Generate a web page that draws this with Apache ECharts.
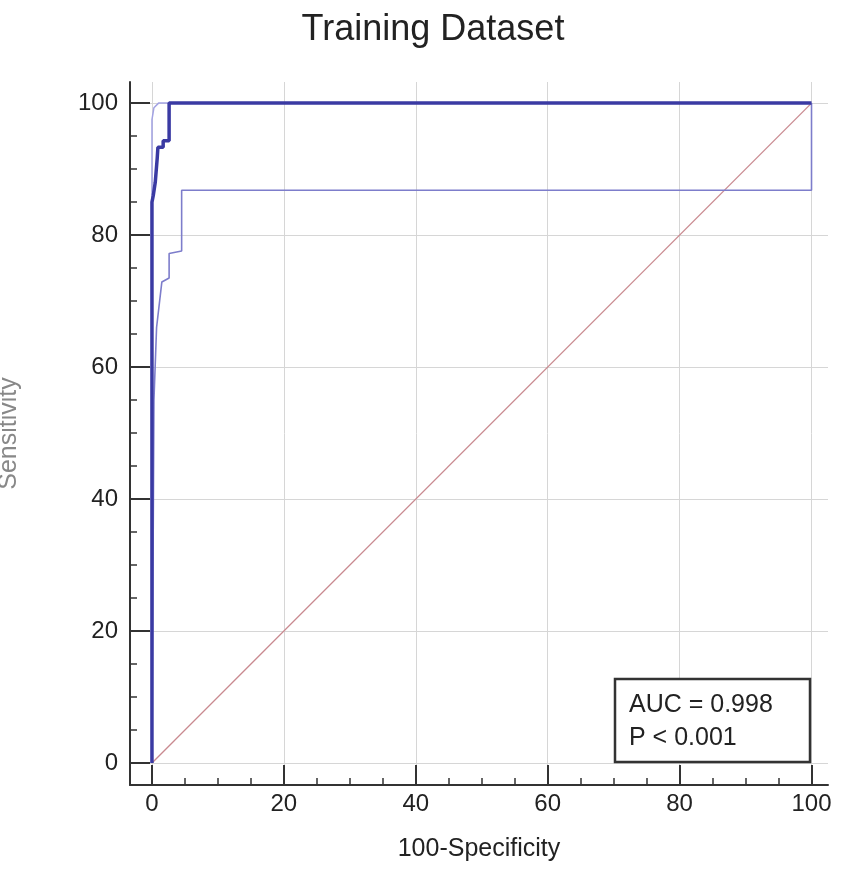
<!DOCTYPE html>
<html>
<head>
<meta charset="utf-8">
<script src="https://cdn.jsdelivr.net/npm/echarts@6/dist/echarts.min.js"></script>
<style>
  html, body { margin: 0; padding: 0; background: #fff; }
  #main { width: 845px; height: 873px; }
</style>
</head>
<body>
<div id="main"></div>
<script>
// tick values
var majorTicks = [0, 20, 40, 60, 80, 100];
var minorTicks = [5, 10, 15, 25, 30, 35, 45, 50, 55, 65, 70, 75, 85, 90, 95];

// ROC curve (100-Specificity, Sensitivity)
var rocCurve = [[0, 0], [0, 85], [0.2, 86], [0.5, 88], [0.8, 91.7], [0.9, 93.3], [1.7, 93.3],
  [1.7, 94.3], [2.6, 94.3], [2.6, 100], [100, 100]];
// confidence bounds
var upperBound = [[0, 0], [0, 97.5], [0.3, 99.3], [1, 100], [100, 100]];
var lowerBound = [[0, 0], [0.3, 55], [0.7, 66], [1.0, 66.1], [1.5, 72.9], [2.6, 73.5], [2.6, 77.2],
  [4.5, 77.6], [4.5, 86.8], [100, 86.8], [100, 100]];
var diagonal = [[0, 0], [100, 100]];

var aucText = 'AUC = 0.998';
var pText = 'P < 0.001';

var font = 'Liberation Sans, Arial, Helvetica, sans-serif';

var myChart = echarts.init(document.getElementById('main'));

function majorAxis(isX) {
  return {
    type: 'value',
    position: isX ? 'bottom' : 'left',
    min: -3.33,
    max: isX ? 102.5 : 103.2,
    name: isX ? '100-Specificity' : 'Sensitivity',
    nameLocation: 'middle',
    nameGap: isX ? 52 : 108,
    nameTextStyle: { fontFamily: font, fontSize: 25, color: isX ? '#222' : '#888' },
    axisLine: { show: true, onZero: false, lineStyle: { color: '#333', width: 2 } },
    axisTick: { show: true, inside: true, length: 20, customValues: majorTicks,
      lineStyle: { color: '#333', width: 2 } },
    axisLabel: { customValues: majorTicks, fontFamily: font, fontSize: 24, color: '#222',
      margin: isX ? 7 : 12 },
    splitLine: { show: true, lineStyle: { color: '#d6d6d6', width: 1 } }
  };
}

function minorAxis(isX) {
  return {
    type: 'value',
    position: isX ? 'bottom' : 'left',
    min: -3.33,
    max: isX ? 102.5 : 103.2,
    axisLine: { show: false, onZero: false },
    axisTick: { show: true, inside: true, length: 7, customValues: minorTicks,
      lineStyle: { color: '#333', width: 1.5 } },
    axisLabel: { show: false },
    splitLine: { show: false }
  };
}

var option = {
  animation: false,
  grid: { left: 130, right: 17, top: 82, bottom: 88, outerBoundsMode: 'none', containLabel: false },
  xAxis: [majorAxis(true), minorAxis(true)],
  yAxis: [majorAxis(false), minorAxis(false)],
  series: [
    {
      type: 'line', data: diagonal, symbol: 'none', z: 2,
      lineStyle: { color: '#c98a90', width: 1.3 }
    },
    {
      type: 'line', data: upperBound, symbol: 'none', z: 3,
      lineStyle: { color: '#a3a3e3', width: 1.5 }
    },
    {
      type: 'line', data: lowerBound, symbol: 'none', z: 3,
      lineStyle: { color: '#7d7dcb', width: 1.6 }
    },
    {
      type: 'line', data: rocCurve, symbol: 'none', z: 4,
      lineStyle: { color: '#3a3aa3', width: 3.5 }
    }
  ],
  graphic: [
    {
      type: 'text', x: 433, y: 12,
      style: { text: 'Training Dataset', fontFamily: font, fontSize: 36, fill: '#222',
        align: 'center', verticalAlign: 'top' }
    },
    {
      type: 'rect', shape: { x: 615, y: 679, width: 195, height: 83 }, z: 10,
      style: { fill: '#fff', stroke: '#333', lineWidth: 2.5 }
    },
    {
      type: 'text', x: 629, y: 705, z: 11,
      style: { text: aucText, fontFamily: font, fontSize: 25, fill: '#222',
        align: 'left', verticalAlign: 'middle' }
    },
    {
      type: 'text', x: 629, y: 738, z: 11,
      style: { text: pText, fontFamily: font, fontSize: 25, fill: '#222',
        align: 'left', verticalAlign: 'middle' }
    }
  ]
};

myChart.setOption(option);
</script>
</body>
</html>
